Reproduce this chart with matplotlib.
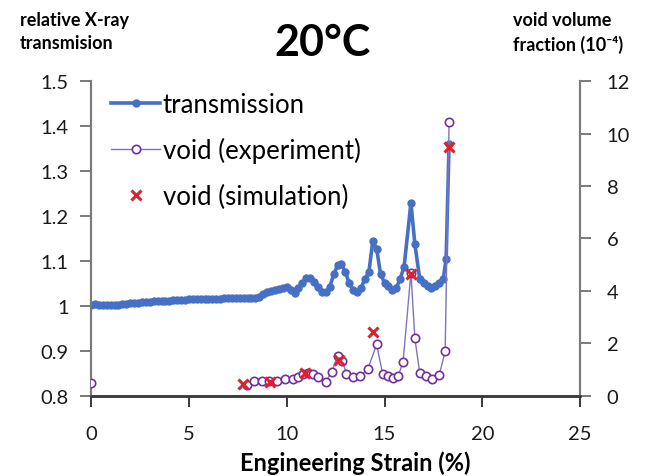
"""Relative X-ray transmission and void volume fraction vs engineering strain at 20 C."""

import matplotlib

matplotlib.use("Agg")
import matplotlib.pyplot as plt
import numpy as np

# transmission (left axis)
trans_strain = [
    0.0, 0.2, 0.4, 0.6, 0.8, 1.0, 1.2, 1.4, 1.6, 1.8, 2.0, 2.2, 2.4, 2.6, 2.8,
    3.0, 3.2, 3.4, 3.6, 3.8, 4.0, 4.2, 4.4, 4.6, 4.8, 5.0, 5.2, 5.4, 5.6, 5.8,
    6.0, 6.2, 6.4, 6.6, 6.8, 7.0, 7.2, 7.4, 7.6, 7.8, 8.0, 8.2, 8.4, 8.6, 8.8,
    9.0, 9.2, 9.4, 9.6, 9.8, 10.0, 10.2, 10.4, 10.6, 10.8, 11.0, 11.2, 11.4,
    11.6, 11.8, 12.0, 12.2, 12.4, 12.6, 12.8, 13.0, 13.2, 13.4, 13.6, 13.8,
    14.0, 14.2, 14.4, 14.6, 14.8, 15.0, 15.2, 15.4, 15.6, 15.8, 16.0, 16.35,
    16.55, 16.8, 17.0, 17.2, 17.4, 17.6, 17.8, 18.0, 18.15, 18.3,
]
transmission = [
    1.003, 1.004, 1.002, 1.002, 1.001, 1.002, 1.003, 1.003, 1.004, 1.005,
    1.006, 1.006, 1.007, 1.008, 1.008, 1.009, 1.010, 1.010, 1.011, 1.012,
    1.012, 1.013, 1.013, 1.014, 1.014, 1.015, 1.015, 1.015, 1.016, 1.016,
    1.016, 1.016, 1.016, 1.016, 1.017, 1.017, 1.017, 1.017, 1.017, 1.017,
    1.017, 1.018, 1.018, 1.020, 1.026, 1.031, 1.034, 1.036, 1.038, 1.040,
    1.041, 1.036, 1.028, 1.040, 1.052, 1.062, 1.063, 1.054, 1.042, 1.032,
    1.030, 1.042, 1.070, 1.090, 1.093, 1.075, 1.050, 1.035, 1.030, 1.040,
    1.060, 1.075, 1.144, 1.127, 1.070, 1.052, 1.045, 1.035, 1.040, 1.060,
    1.087, 1.229, 1.138, 1.060, 1.050, 1.045, 1.040, 1.045, 1.052, 1.060,
    1.104, 1.360,
]

# void volume fraction, experiment (right axis, 1e-4); NaN breaks the line
void_exp_strain = [
    0.0, np.nan, 7.95, 8.35, 8.75, 9.1, 9.5, 9.9, 10.3, 10.6, 10.85, 11.1,
    11.35, 11.6, 12.0, 12.3, 12.6, 12.85, 13.05, 13.4, 13.75, 14.15, 14.6,
    14.9, 15.2, 15.45, 15.7, 15.95, 16.35, 16.55, 16.8, 17.1, 17.45, 17.8,
    18.1, 18.3,
]
void_exp = [
    0.48, np.nan, 0.40, 0.55, 0.57, 0.57, 0.58, 0.64, 0.66, 0.72, 0.84, 0.86,
    0.82, 0.72, 0.53, 0.91, 1.52, 1.33, 0.84, 0.72, 0.76, 1.03, 1.96,
    0.84, 0.74, 0.69, 0.76, 1.30, 4.70, 2.20, 0.88, 0.76, 0.65, 0.80,
    1.70, 10.44,
]

# void volume fraction, simulation
void_sim_strain = [7.75, 9.15, 10.95, 12.65, 14.4, 16.35, 18.3]
void_sim = [0.46, 0.53, 0.86, 1.38, 2.44, 4.65, 9.50]

x_ticks = [0, 5, 10, 15, 20, 25]
left_ticks = [0.8, 0.9, 1.0, 1.1, 1.2, 1.3, 1.4, 1.5]
left_labels = ["0.8", "0.9", "1", "1.1", "1.2", "1.3", "1.4", "1.5"]
right_ticks = [0, 2, 4, 6, 8, 10, 12]

plt.rcParams["font.family"] = ["Lato", "DejaVu Sans"]

BLUE = "#4670C4"
PURPLE = "#7030A0"
PURPLE_LINE = "#7F74B8"
RED = "#E0202A"
SPINE = "#7a7a7a"

fig = plt.figure(figsize=(6.6, 4.77), dpi=100)
ax = fig.add_axes([0.138, 0.168, 0.741, 0.66])
ax2 = ax.twinx()

(h_trans,) = ax.plot(
    trans_strain, transmission, color=BLUE, linewidth=2.6,
    marker="o", markersize=5, label="transmission", zorder=3,
)
(h_exp,) = ax2.plot(
    void_exp_strain, void_exp, color=PURPLE_LINE, linewidth=1.0,
    marker="o", markersize=6, markerfacecolor="white", markeredgecolor=PURPLE,
    markeredgewidth=1.2, label="void (experiment)", zorder=3,
)
(h_sim,) = ax2.plot(
    void_sim_strain, void_sim, linestyle="none", marker="x", markersize=7,
    markeredgewidth=2.2, color=RED, label="void (simulation)", zorder=4,
)

ax.set_xlim(0, 25)
ax.set_ylim(0.8, 1.5)
ax2.set_ylim(0, 12)
ax.set_xticks(x_ticks)
ax.set_yticks(left_ticks)
ax.set_yticklabels(left_labels)
ax2.set_yticks(right_ticks)

for a in (ax, ax2):
    a.spines["top"].set_visible(False)
    for side in ("left", "right"):
        a.spines[side].set_color(SPINE)
        a.spines[side].set_linewidth(1.5)
    a.spines["bottom"].set_color("#3a3a3a")
    a.spines["bottom"].set_linewidth(1.8)
    a.tick_params(direction="out", length=8, width=1.4, color=SPINE,
                  labelsize=14.5, labelcolor="#1a1a1a")

ax.tick_params(axis="x", pad=13, color="#3a3a3a")
ax.tick_params(axis="y", pad=8)
ax2.tick_params(axis="y", pad=11)

ax.set_xlabel("Engineering Strain (%)", fontsize=17, fontweight="bold")
ax.xaxis.set_label_coords(0.54, -0.172)

fig.text(0.03, 0.975, "relative X-ray\ntransmision", fontsize=13,
         fontweight="bold", va="top", ha="left", linespacing=1.45)
fig.text(0.777, 0.975, "void volume\nfraction (10⁻⁴)", fontsize=13,
         fontweight="bold", va="top", ha="left", linespacing=1.45)
fig.text(0.488, 0.91, "20°C", fontsize=31, fontweight="bold",
         ha="center", va="center")

ax2.legend(
    handles=[h_trans, h_exp, h_sim], loc="upper left",
    bbox_to_anchor=(0.01, 1.015), frameon=False, fontsize=18.5,
    handlelength=1.9, handletextpad=0.1, labelspacing=0.8,
    borderaxespad=0.2,
)

fig.savefig("out.png", dpi=100)
